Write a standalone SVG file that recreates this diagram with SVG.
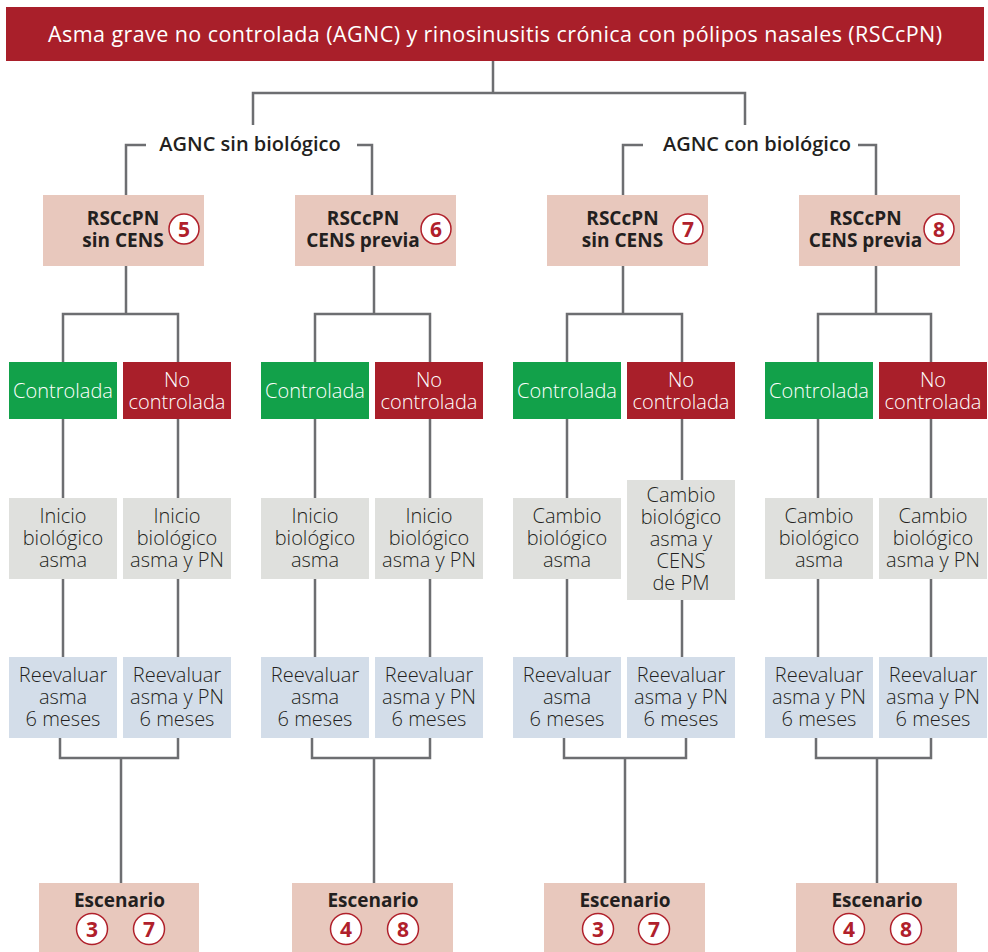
<svg xmlns="http://www.w3.org/2000/svg" width="988" height="952" viewBox="0 0 988 952">
<style>
.ln{fill:none;stroke:#6d6e71;stroke-width:2.5}
.hdr{fill:#a91f2a}
.pk{fill:#e8c8bd}
.gr{fill:#12a14a}
.rd{fill:#a91f2a}
.gy{fill:#dfe0dd}
.bl{fill:#d3dde9}
text{font-family:"Open Sans","Liberation Sans",sans-serif;text-anchor:middle}
.t{font-size:20px;font-weight:300;fill:#231f20}
.tw{font-size:20px;font-weight:300;fill:#ffffff}
.b{font-size:19px;font-weight:700;fill:#231f20}
.sec{font-size:20px;font-weight:600;fill:#231f20}
.h{font-size:21.5px;font-weight:500;fill:#ffffff}
.cc{fill:#ffffff;stroke:#b0202b;stroke-width:1.5}
.cn{font-size:21px;font-weight:700;fill:#b0202b}
</style>
<g id="connectors">
<path class="ln" d="M493 61V93M253 125V93H745V125"/>
<path class="ln" d="M146 145H126V195M357 145H372V195"/>
<path class="ln" d="M643 145H623V195M858 145H876V195"/>
<path class="ln" d="M126 266V314M63 362V314H178V362M63 419V498M178 419V498M63 579V657M178 579V657M60 738V758H178V738M121 758V883"/>
<path class="ln" d="M374 266V314M315 362V314H430V362M315 419V498M430 419V498M315 579V657M430 579V657M312 738V758H430V738M374 758V883"/>
<path class="ln" d="M623 266V314M567 362V314H682V362M567 419V498M682 419V480M567 579V657M682 600V657M564 738V758H686V738M625 758V883"/>
<path class="ln" d="M876 266V314M818 362V314H931V362M818 419V498M931 419V498M818 579V657M931 579V657M816 738V758H931V738M877 758V883"/>
</g>
<g id="header">
<rect class="hdr" x="6" y="7" width="978" height="54"/>
<text class="h" x="495" y="42" textLength="894" lengthAdjust="spacing">Asma grave no controlada (AGNC) y rinosinusitis crónica con pólipos nasales (RSCcPN)</text>
</g>
<g id="sec-sin"><text class="sec" x="250" y="151">AGNC sin biológico</text></g>
<g id="sec-con"><text class="sec" x="757" y="151">AGNC con biológico</text></g>

<g id="rsc5"><rect class="pk" x="43" y="195" width="161" height="71"/>
<text class="b" x="123" y="225">RSCcPN<tspan x="123" dy="22">sin CENS</tspan></text>
<circle class="cc" cx="184" cy="229" r="15"/><text class="cn" x="184" y="236.5">5</text></g>
<g id="rsc6"><rect class="pk" x="295" y="195" width="161" height="71"/>
<text class="b" x="363" y="225">RSCcPN<tspan x="363" dy="22">CENS previa</tspan></text>
<circle class="cc" cx="436" cy="229" r="15"/><text class="cn" x="436" y="236.5">6</text></g>
<g id="rsc7"><rect class="pk" x="547" y="195" width="161" height="71"/>
<text class="b" x="622.5" y="225">RSCcPN<tspan x="622.5" dy="22">sin CENS</tspan></text>
<circle class="cc" cx="688" cy="229" r="15"/><text class="cn" x="688" y="236.5">7</text></g>
<g id="rsc8"><rect class="pk" x="799" y="195" width="161" height="71"/>
<text class="b" x="865.5" y="225">RSCcPN<tspan x="865.5" dy="22">CENS previa</tspan></text>
<circle class="cc" cx="939" cy="229" r="15"/><text class="cn" x="939" y="236.5">8</text></g>

<g id="c1"><rect class="gr" x="9" y="362" width="108" height="57"/><text class="tw" x="63" y="398">Controlada</text></g>
<g id="n1"><rect class="rd" x="123" y="362" width="108" height="57"/><text class="tw" x="177" y="387">No<tspan x="177" dy="22">controlada</tspan></text></g>
<g id="c2"><rect class="gr" x="261" y="362" width="108" height="57"/><text class="tw" x="315" y="398">Controlada</text></g>
<g id="n2"><rect class="rd" x="375" y="362" width="108" height="57"/><text class="tw" x="429" y="387">No<tspan x="429" dy="22">controlada</tspan></text></g>
<g id="c3"><rect class="gr" x="513" y="362" width="108" height="57"/><text class="tw" x="567" y="398">Controlada</text></g>
<g id="n3"><rect class="rd" x="627" y="362" width="108" height="57"/><text class="tw" x="681" y="387">No<tspan x="681" dy="22">controlada</tspan></text></g>
<g id="c4"><rect class="gr" x="765" y="362" width="108" height="57"/><text class="tw" x="819" y="398">Controlada</text></g>
<g id="n4"><rect class="rd" x="879" y="362" width="108" height="57"/><text class="tw" x="933" y="387">No<tspan x="933" dy="22">controlada</tspan></text></g>

<g id="g1a"><rect class="gy" x="9" y="498" width="108" height="81"/><text class="t" x="63" y="523">Inicio<tspan x="63" dy="22">biológico</tspan><tspan x="63" dy="22">asma</tspan></text></g>
<g id="g1b"><rect class="gy" x="123" y="498" width="108" height="81"/><text class="t" x="177" y="523">Inicio<tspan x="177" dy="22">biológico</tspan><tspan x="177" dy="22">asma y PN</tspan></text></g>
<g id="g2a"><rect class="gy" x="261" y="498" width="108" height="81"/><text class="t" x="315" y="523">Inicio<tspan x="315" dy="22">biológico</tspan><tspan x="315" dy="22">asma</tspan></text></g>
<g id="g2b"><rect class="gy" x="375" y="498" width="108" height="81"/><text class="t" x="429" y="523">Inicio<tspan x="429" dy="22">biológico</tspan><tspan x="429" dy="22">asma y PN</tspan></text></g>
<g id="g3a"><rect class="gy" x="513" y="498" width="108" height="81"/><text class="t" x="567" y="523">Cambio<tspan x="567" dy="22">biológico</tspan><tspan x="567" dy="22">asma</tspan></text></g>
<g id="g3b"><rect class="gy" x="627" y="480" width="108" height="120"/><text class="t" x="681" y="502">Cambio<tspan x="681" dy="22">biológico</tspan><tspan x="681" dy="22">asma y</tspan><tspan x="681" dy="22">CENS</tspan><tspan x="681" dy="22">de PM</tspan></text></g>
<g id="g4a"><rect class="gy" x="765" y="498" width="108" height="81"/><text class="t" x="819" y="523">Cambio<tspan x="819" dy="22">biológico</tspan><tspan x="819" dy="22">asma</tspan></text></g>
<g id="g4b"><rect class="gy" x="879" y="498" width="108" height="81"/><text class="t" x="933" y="523">Cambio<tspan x="933" dy="22">biológico</tspan><tspan x="933" dy="22">asma y PN</tspan></text></g>

<g id="b1a"><rect class="bl" x="9" y="657" width="108" height="81"/><text class="t" x="63" y="682">Reevaluar<tspan x="63" dy="22">asma</tspan><tspan x="63" dy="22">6 meses</tspan></text></g>
<g id="b1b"><rect class="bl" x="123" y="657" width="108" height="81"/><text class="t" x="177" y="682">Reevaluar<tspan x="177" dy="22">asma y PN</tspan><tspan x="177" dy="22">6 meses</tspan></text></g>
<g id="b2a"><rect class="bl" x="261" y="657" width="108" height="81"/><text class="t" x="315" y="682">Reevaluar<tspan x="315" dy="22">asma</tspan><tspan x="315" dy="22">6 meses</tspan></text></g>
<g id="b2b"><rect class="bl" x="375" y="657" width="108" height="81"/><text class="t" x="429" y="682">Reevaluar<tspan x="429" dy="22">asma y PN</tspan><tspan x="429" dy="22">6 meses</tspan></text></g>
<g id="b3a"><rect class="bl" x="513" y="657" width="108" height="81"/><text class="t" x="567" y="682">Reevaluar<tspan x="567" dy="22">asma</tspan><tspan x="567" dy="22">6 meses</tspan></text></g>
<g id="b3b"><rect class="bl" x="627" y="657" width="108" height="81"/><text class="t" x="681" y="682">Reevaluar<tspan x="681" dy="22">asma y PN</tspan><tspan x="681" dy="22">6 meses</tspan></text></g>
<g id="b4a"><rect class="bl" x="765" y="657" width="108" height="81"/><text class="t" x="819" y="682">Reevaluar<tspan x="819" dy="22">asma y PN</tspan><tspan x="819" dy="22">6 meses</tspan></text></g>
<g id="b4b"><rect class="bl" x="879" y="657" width="108" height="81"/><text class="t" x="933" y="682">Reevaluar<tspan x="933" dy="22">asma y PN</tspan><tspan x="933" dy="22">6 meses</tspan></text></g>

<g id="esc1"><rect class="pk" x="39" y="883" width="160" height="69"/><text class="b" x="119.5" y="907">Escenario</text>
<circle class="cc" cx="92" cy="929" r="15.5"/><text class="cn" x="92" y="936.5">3</text>
<circle class="cc" cx="149" cy="929" r="15.5"/><text class="cn" x="149" y="936.5">7</text></g>
<g id="esc2"><rect class="pk" x="292" y="883" width="161" height="69"/><text class="b" x="373" y="907">Escenario</text>
<circle class="cc" cx="346" cy="929" r="15.5"/><text class="cn" x="346" y="936.5">4</text>
<circle class="cc" cx="403" cy="929" r="15.5"/><text class="cn" x="403" y="936.5">8</text></g>
<g id="esc3"><rect class="pk" x="544" y="883" width="161" height="69"/><text class="b" x="625" y="907">Escenario</text>
<circle class="cc" cx="598" cy="929" r="15.5"/><text class="cn" x="598" y="936.5">3</text>
<circle class="cc" cx="654" cy="929" r="15.5"/><text class="cn" x="654" y="936.5">7</text></g>
<g id="esc4"><rect class="pk" x="796" y="883" width="161" height="69"/><text class="b" x="877" y="907">Escenario</text>
<circle class="cc" cx="849" cy="929" r="15.5"/><text class="cn" x="849" y="936.5">4</text>
<circle class="cc" cx="906" cy="929" r="15.5"/><text class="cn" x="906" y="936.5">8</text></g>
</svg>
